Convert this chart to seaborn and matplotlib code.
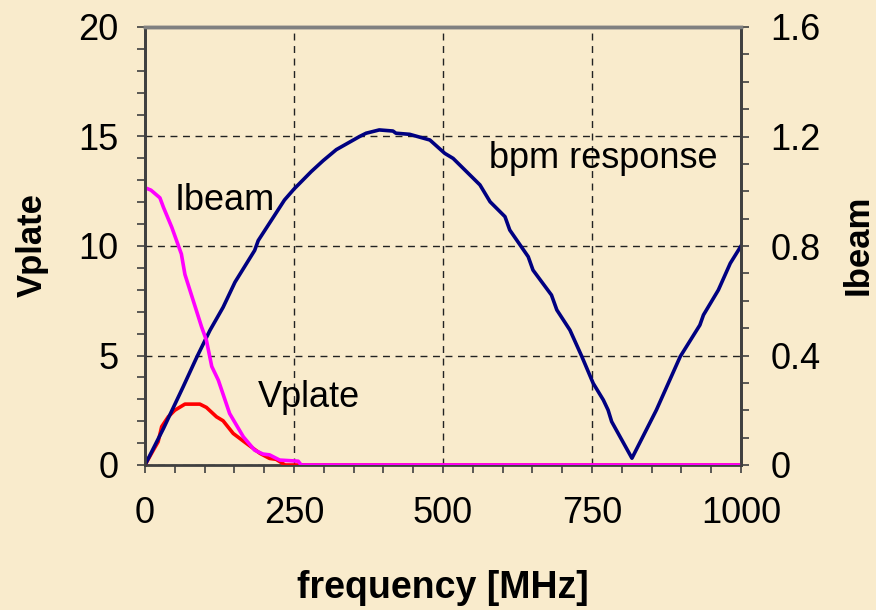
import matplotlib
matplotlib.use("Agg")
import matplotlib.pyplot as plt
from matplotlib.ticker import MultipleLocator
import seaborn as sns
import pandas as pd

# ---- data ----
bpm_freq = [0, 31, 64, 87, 109, 131, 151, 184, 190, 215, 234, 250, 279, 299, 321, 360, 371,
            393, 416, 421, 444, 478, 503, 517, 562, 579, 604, 612, 643, 651, 682, 691, 713,
            733, 752, 769, 777, 783, 817, 858, 898, 931, 937, 962, 982, 1000]
bpm_vplate = [0, 1.67, 3.57, 4.93, 6.15, 7.2, 8.35, 9.8, 10.25, 11.3, 12.1, 12.6, 13.4, 13.9,
              14.4, 15.0, 15.15, 15.3, 15.25, 15.15, 15.1, 14.84, 14.23, 14.0, 12.79, 12.02,
              11.34, 10.73, 9.51, 8.9, 7.76, 7.08, 6.16, 4.95, 3.73, 2.97, 2.51, 1.98, 0.31,
              2.51, 4.95, 6.39, 6.85, 7.99, 9.21, 10.0]

vplate_freq = [0, 14, 22, 28, 39, 50, 67, 92, 103, 120, 131, 148, 170, 193, 209, 220, 235, 1000]
vplate_val = [0, 0.68, 1.06, 1.75, 2.2, 2.5, 2.78, 2.78, 2.63, 2.2, 2.02, 1.44, 0.99, 0.53,
              0.3, 0.26, 0.0, 0.0]

ibeam_freq = [0, 10, 25, 31, 45, 61, 67, 81, 95, 103, 112, 123, 142, 165, 184, 198, 209, 226,
              257, 262, 1000]
ibeam_val = [1.013, 1.004, 0.976, 0.941, 0.868, 0.771, 0.696, 0.60, 0.504, 0.456, 0.36, 0.31,
             0.188, 0.103, 0.054, 0.04, 0.037, 0.018, 0.014, 0.0, 0.0]

x_ticks = [0, 250, 500, 750, 1000]
y_left_ticks = [0, 5, 10, 15, 20]
y_right_ticks = [0, 0.4, 0.8, 1.2, 1.6]
y_right_labels = ["0", "0.4", "0.8", "1.2", "1.6"]

# ---- style ----
BG = "#F9EBCC"
FONT = "Liberation Sans"
plt.rcParams["font.family"] = [FONT, "DejaVu Sans"]

fig = plt.figure(figsize=(8.76, 6.10), dpi=100, facecolor=BG)
ax = fig.add_axes([145 / 876, 1 - 465 / 610, 596 / 876, 438 / 610])
ax.set_facecolor(BG)

df_bpm = pd.DataFrame({"f": bpm_freq, "v": bpm_vplate})
df_vp = pd.DataFrame({"f": vplate_freq, "v": vplate_val})
df_ib = pd.DataFrame({"f": ibeam_freq, "i": ibeam_val})

LW = 2.6
sns.lineplot(data=df_vp, x="f", y="v", ax=ax, color="#FF0000", linewidth=LW,
             sort=False, estimator=None, zorder=3)
sns.lineplot(data=df_bpm, x="f", y="v", ax=ax, color="#000080", linewidth=LW,
             sort=False, estimator=None, zorder=4)

ax.set_xlim(0, 1000)
ax.set_ylim(0, 20)
ax.set_xticks(x_ticks)
ax.set_yticks(y_left_ticks)
ax.xaxis.set_minor_locator(MultipleLocator(50))
ax.yaxis.set_minor_locator(MultipleLocator(1))
ax.set_xlabel("")
ax.set_ylabel("")
ax.grid(True, which="major", linestyle=(0, (5, 4)), color="#222222", linewidth=1.0)
ax.set_axisbelow(True)

ax2 = ax.twinx()
sns.lineplot(data=df_ib, x="f", y="i", ax=ax2, color="#FF00FF", linewidth=LW,
             sort=False, estimator=None)
ax2.set_ylim(0, 1.6)
ax2.set_yticks(y_right_ticks)
ax2.set_yticklabels(y_right_labels)
ax2.yaxis.set_minor_locator(MultipleLocator(0.1))
ax2.set_ylabel("")

TS = 26
ax.tick_params(axis="both", which="major", length=6, direction="out", color="#404040",
               width=1.2, labelsize=TS, labelcolor="black")
ax.tick_params(axis="both", which="minor", length=6, direction="out", color="#404040", width=1.2)
ax.tick_params(axis="y", which="major", pad=13)
ax.tick_params(axis="x", which="major", pad=16)
ax2.tick_params(axis="y", which="major", length=6, pad=15, direction="out", color="#404040",
                width=1.2, labelsize=TS, labelcolor="black")
ax2.tick_params(axis="y", which="minor", length=6, direction="out", color="#404040", width=1.2)

for a in (ax, ax2):
    for side in ("left", "right", "bottom"):
        a.spines[side].set_color("#404040")
        a.spines[side].set_linewidth(2.0)
    a.spines["top"].set_color("#808080")
    a.spines["top"].set_linewidth(2.5)
ax2.spines["bottom"].set_visible(False)

# annotations
ax.text(50, 11.64, "Ibeam", fontsize=26, ha="left", va="baseline", zorder=6)
ax.text(190, 2.65, "Vplate", fontsize=26, ha="left", va="baseline", zorder=6)
ax.text(577, 13.55, "bpm response", fontsize=26, ha="left", va="baseline", zorder=6)

# axis titles
fig.text(32 / 876, 1 - 245 / 610, "Vplate", rotation=90, ha="center", va="center",
         fontsize=25, fontweight="bold")
fig.text(858 / 876, 1 - 245 / 610, "Ibeam", rotation=90, ha="center", va="center",
         fontsize=25, fontweight="bold")
fig.text(443 / 876, 1 - 588 / 610, "frequency [MHz]", ha="center", va="center",
         fontsize=27, fontweight="bold")

fig.savefig("out.png", dpi=100, facecolor=BG)
